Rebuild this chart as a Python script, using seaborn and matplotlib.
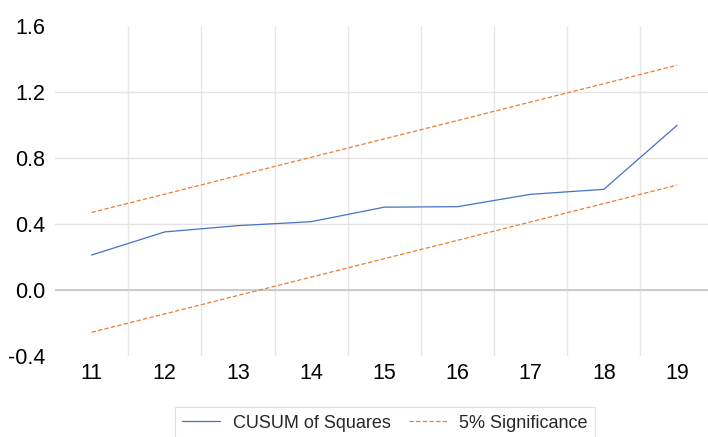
import matplotlib
matplotlib.use('Agg')
import pandas as pd
import seaborn as sns
import matplotlib.pyplot as plt
from matplotlib.lines import Line2D

periods = [11, 12, 13, 14, 15, 16, 17, 18, 19]
cusum_sq = [0.212, 0.352, 0.39, 0.414, 0.502, 0.505, 0.58, 0.61, 0.998]
lower_5 = [-0.256, -0.145, -0.033, 0.078, 0.19, 0.301, 0.413, 0.524, 0.636]
upper_5 = [0.47, 0.581, 0.693, 0.804, 0.916, 1.027, 1.139, 1.25, 1.362]
y_ticks = [-0.4, 0.0, 0.4, 0.8, 1.2, 1.6]

sns.set_style('white')
plt.rcParams['font.family'] = ['Liberation Sans', 'DejaVu Sans']
plt.rcParams['axes.unicode_minus'] = False

dados = pd.DataFrame({'periodo': periods, 'cusum': cusum_sq,
                      'baixo': lower_5, 'alto': upper_5})

blue = '#4472C4'
orange = '#ED7D31'
dash = (0, (3.5, 1.8))

fig = plt.figure(figsize=(7.08, 4.37), dpi=100)
ax = fig.add_axes([55 / 708, 81 / 437, 658.6 / 708, 330 / 437])

sns.lineplot(x='periodo', y='cusum', data=dados, ax=ax, color=blue, lw=0.9)
sns.lineplot(x='periodo', y='baixo', data=dados, ax=ax, color=orange,
             lw=0.9, linestyle=dash)
sns.lineplot(x='periodo', y='alto', data=dados, ax=ax, color=orange,
             lw=0.9, linestyle=dash)

ax.set_xlim(10.5, 19.5)
ax.set_ylim(-0.4, 1.6)
ax.set_xticks(periods)
ax.set_xticklabels([str(p) for p in periods])
ax.set_yticks(y_ticks)
ax.set_yticklabels(['%.1f' % v for v in y_ticks])
ax.tick_params(axis='both', length=0, labelsize=15.5, colors='#000000')
ax.tick_params(axis='y', pad=7)
ax.tick_params(axis='x', pad=5)
ax.set_xlabel('')
ax.set_ylabel('')

for sp in ax.spines.values():
    sp.set_visible(False)

# grid: vertical lines between categories, horizontal at y ticks
for xv in [p + 0.5 for p in periods[:-1]]:
    ax.axvline(xv, color='#E6E6E6', lw=1, zorder=0)
for yv in y_ticks[1:-1]:
    ax.axhline(yv, color='#E3E3E3', lw=1, zorder=0)
ax.axhline(0.0, color='#C6C6C6', lw=1.2, zorder=0.5)

handles = [Line2D([], [], color=blue, lw=0.9),
           Line2D([], [], color=orange, lw=0.9, linestyle=dash)]
leg = fig.legend(handles, ['CUSUM of Squares', '5% Significance'],
                 loc='center', bbox_to_anchor=(385 / 708, 1 - 423 / 437),
                 ncol=2, fontsize=13, frameon=True, fancybox=False,
                 handlelength=2.1, columnspacing=1.0, handletextpad=0.7,
                 borderpad=0.4)
leg.get_frame().set_edgecolor('#D9D9D9')
leg.get_frame().set_linewidth(0.8)

fig.savefig('out.png', dpi=100)
